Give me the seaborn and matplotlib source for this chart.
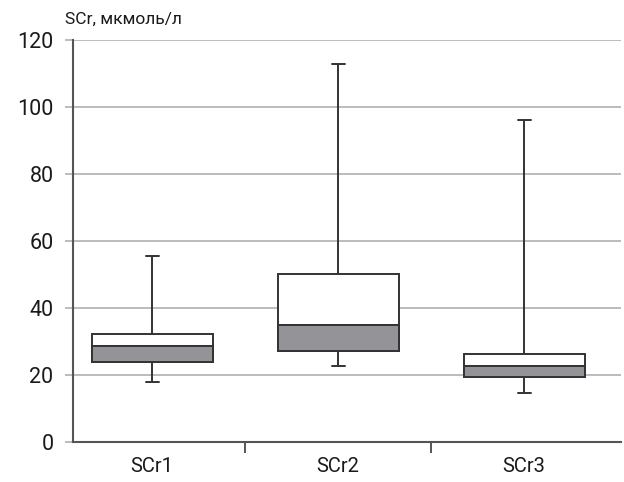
import pandas as pd
import matplotlib
matplotlib.use("Agg")
import matplotlib.pyplot as plt
import seaborn as sns

# Box statistics
groups = ["SCr1", "SCr2", "SCr3"]
mins = [17.8, 22.6, 14.5]
q1s = [23.9, 27.3, 19.4]
medians = [28.6, 34.9, 22.7]
q3s = [32.3, 50.1, 26.3]
maxs = [55.5, 112.7, 96.0]
yticks = [0, 20, 40, 60, 80, 100, 120]

# five points per group reproduce min/q1/median/q3/max exactly
full = pd.DataFrame({
    "group": [g for g in groups for _ in range(5)],
    "value": [v for i in range(3) for v in (mins[i], q1s[i], medians[i], q3s[i], maxs[i])],
})
# lower (grey) part: box from q1 to median
lower = pd.DataFrame({
    "group": [g for g in groups for _ in range(5)],
    "value": [v for i in range(3) for v in (q1s[i], q1s[i], q1s[i], medians[i], medians[i])],
})

sns.set_theme(style="white")
plt.rcParams["font.family"] = ["Roboto", "DejaVu Sans"]

fig = plt.figure(figsize=(6.24, 4.82), dpi=100)
ax = fig.add_axes([0.117, 0.083, 0.878, 0.834])

edge = "#333333"
sns.boxplot(data=full, x="group", y="value", order=groups, whis=(0, 100),
            width=0.65, color="white", linecolor=edge, linewidth=1.4,
            capwidths=0.07, ax=ax, zorder=3)
sns.boxplot(data=lower, x="group", y="value", order=groups, whis=(0, 100),
            width=0.65, color="#939398", linecolor=edge, linewidth=1.4,
            showcaps=False, saturation=1, ax=ax, zorder=4,
            medianprops=dict(linewidth=0))

ax.set_ylim(0, 120)
ax.set_xlim(-0.425, 2.52)
ax.set_yticks(yticks)
ax.set_yticklabels([str(t) for t in yticks], fontsize=15.5, color="#1a1a1a")
ax.yaxis.grid(True, color="#b0b0b0", linewidth=1.2, zorder=0)
ax.set_axisbelow(True)

ax.set_xticks([0, 1, 2])
ax.set_xticklabels(groups, fontsize=14.5, color="#1a1a1a")
ax.tick_params(axis="x", length=0, pad=11)
ax.tick_params(axis="y", length=6, width=1.2, color="#b0b0b0", left=True, pad=8)
# separators between categories
ax.set_xticks([0.5, 1.5], minor=True)
ax.tick_params(axis="x", which="minor", length=8, width=1.4, color="#555555", bottom=True, direction="out")

ax.set_xlabel("")
ax.set_ylabel("")
for s in ["top", "right"]:
    ax.spines[s].set_visible(False)
for s in ["left", "bottom"]:
    ax.spines[s].set_color("#555555")
    ax.spines[s].set_linewidth(1.5)

fig.text(0.104, 0.945, "SCr, мкмоль/л", fontsize=12.5, color="#1a1a1a", ha="left", va="bottom")

fig.savefig("out.png", dpi=100)
